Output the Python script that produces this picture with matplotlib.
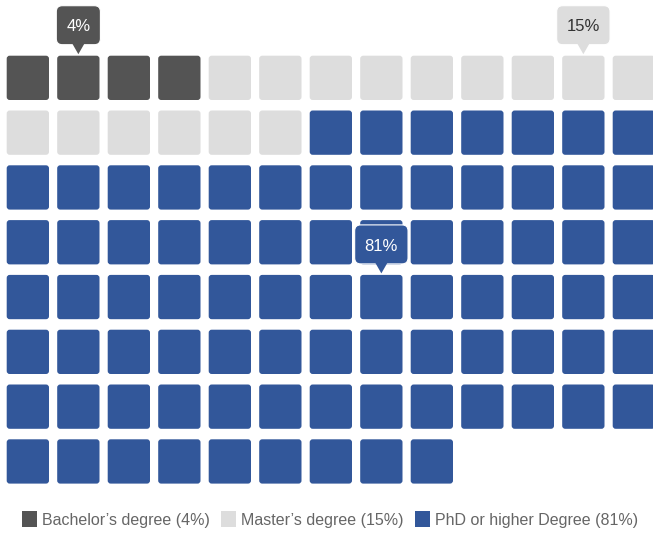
import matplotlib
matplotlib.use("Agg")
import matplotlib.pyplot as plt
from matplotlib.patches import FancyBboxPatch, Polygon, Rectangle

plt.rcParams['font.family'] = ['Liberation Sans', 'DejaVu Sans']

# ---- data ----
categories = ["Bachelor\u2019s degree", "Master\u2019s degree", "PhD or higher Degree"]
values = [4, 15, 81]
colors = ["#545454", "#dddddd", "#32579a"]
label_colors = ["#ffffff", "#333333", "#ffffff"]
tooltip_cells = [1, 11, 59]   # cell index (row-major) where each tooltip points

# ---- layout ----
W, H = 653, 533
fig = plt.figure(figsize=(W / 100, H / 100), dpi=100)
ax = fig.add_axes([0, 0, 1, 1])
ax.set_xlim(0, W)
ax.set_ylim(H, 0)
ax.axis('off')

ncols = 13
x0, y0 = 6.7, 55.7
dx, dy = 50.5, 54.8
sw, sh = 42.3, 44.3

cells = []
for ci, v in enumerate(values):
    cells += [ci] * v
for k, ci in enumerate(cells):
    r, c = divmod(k, ncols)
    ax.add_patch(FancyBboxPatch((x0 + c * dx, y0 + r * dy), sw, sh,
                                boxstyle="round,pad=0,rounding_size=3",
                                fc=colors[ci], ec='none', zorder=2))

fig.canvas.draw()
renderer = fig.canvas.get_renderer()

# ---- tooltips ----
for ci, cell in enumerate(tooltip_cells):
    r, c = divmod(cell, ncols)
    cx = x0 + c * dx + sw / 2
    tip = y0 + r * dy - 1.5
    bh, ph, pw = 39, 9.5, 6
    bottom = tip - ph
    top = bottom - bh
    t = ax.text(cx, (top + bottom) / 2 + 6.2, f"{values[ci]}%", ha='center', va='baseline',
                color=label_colors[ci], fontsize=12, zorder=6)
    tw = t.get_window_extent(renderer).width
    bw = tw + 20
    ax.add_patch(FancyBboxPatch((cx - bw / 2, top), bw, bh,
                                boxstyle="round,pad=0,rounding_size=6",
                                fc=colors[ci], ec='white', lw=0.8, zorder=4))
    ax.add_patch(Polygon([(cx - pw, bottom - 1), (cx + pw, bottom - 1), (cx, tip)], closed=True,
                         fc=colors[ci], ec='none', zorder=5))

# ---- legend ----
ly = 519
x = 22
for ci, name in enumerate(categories):
    ax.add_patch(Rectangle((x, ly - 8), 15, 16, fc=colors[ci], ec='none'))
    t = ax.text(x + 20, ly + 5.8, f"{name} ({values[ci]}%)", ha='left', va='baseline',
                color='#666666', fontsize=11.5)
    w = t.get_window_extent(renderer).width
    x = x + 20 + w + 11.5

fig.savefig("out.png", dpi=100)
